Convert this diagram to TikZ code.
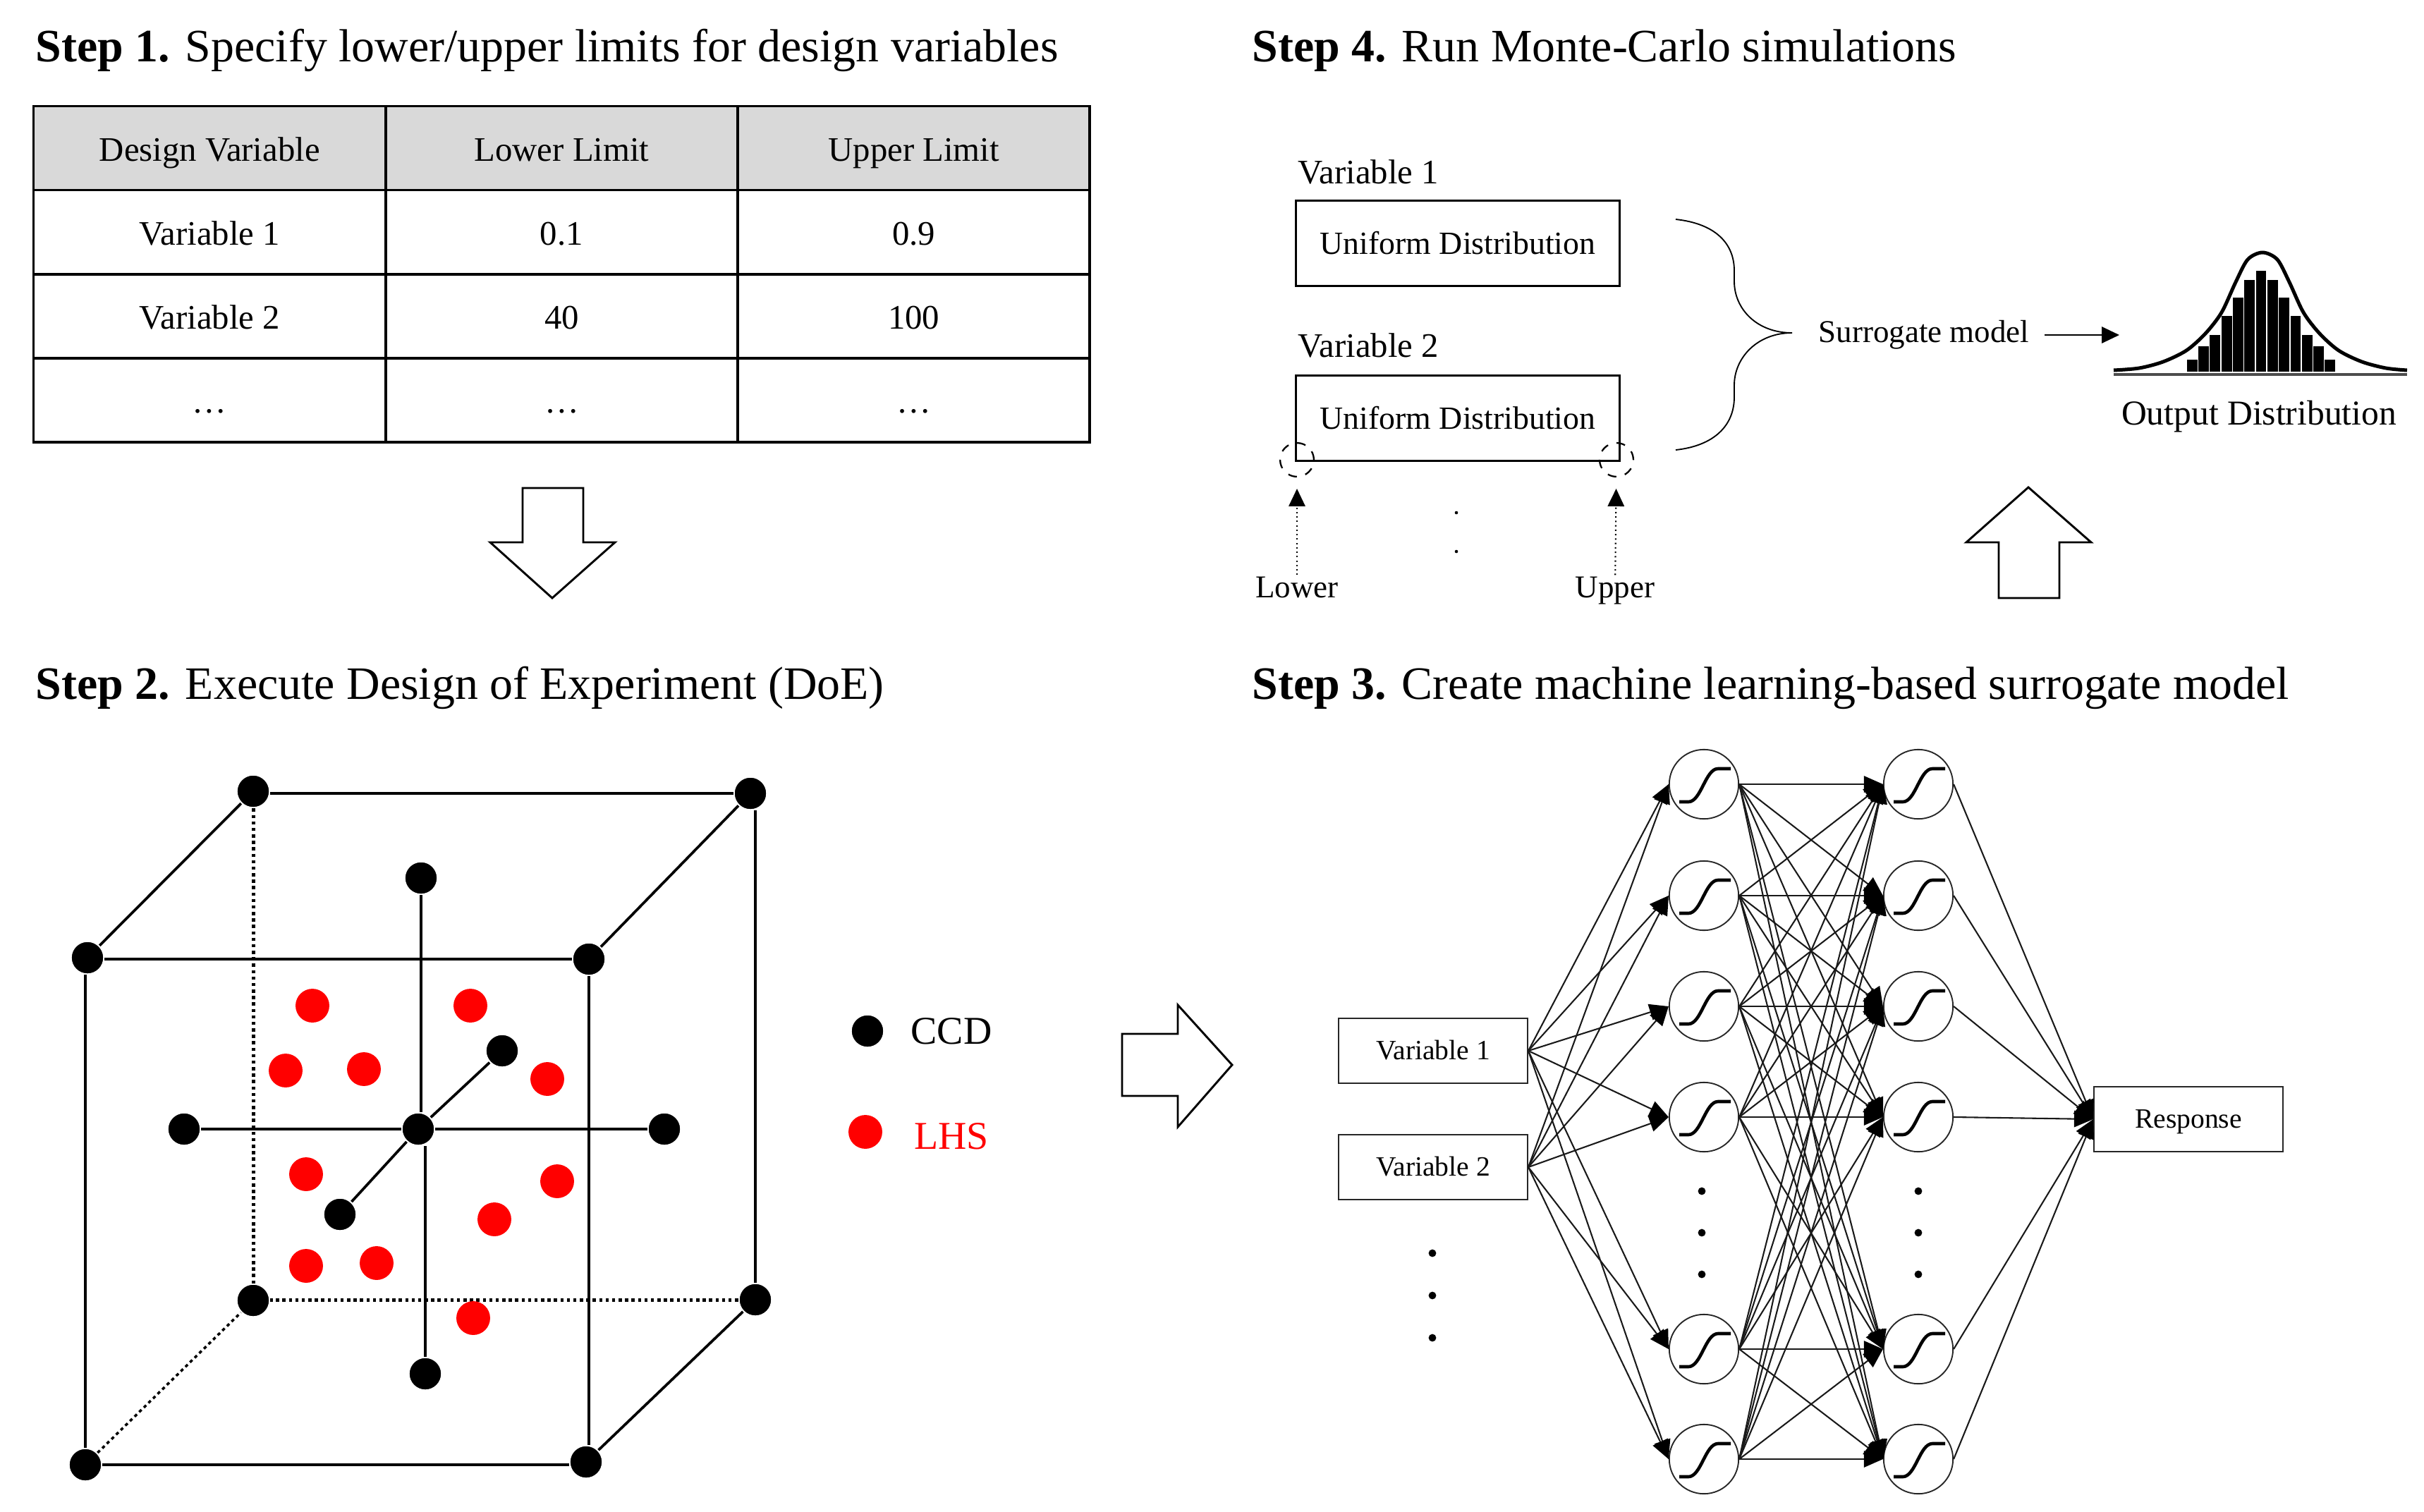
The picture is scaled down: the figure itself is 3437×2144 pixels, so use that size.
\documentclass[tikz,border=0pt]{standalone}
\usepackage{fontspec}
\setmainfont{Liberation Serif}
\usetikzlibrary{arrows.meta,positioning}

\begin{document}
\begin{tikzpicture}[x=0.24pt,y=-0.24pt,node distance=0pt,
  steptitle/.style={anchor=base west, inner sep=0pt, font=\fontsize{15.8}{19}\selectfont},
  tablecell/.style={draw=black, line width=0.85pt, outer sep=0pt, inner sep=0pt, minimum width=119.8pt, minimum height=28.6pt, text height=11.2pt, text depth=2.5pt, font=\fontsize{11.7}{14}\selectfont},
  headcell/.style={tablecell, fill=black!15},
  bigarrow/.style={draw=black, line width=0.7pt, fill=white, line join=miter},
  ccddot/.style={circle, fill=black, draw=white, line width=0.5pt, minimum size=11.2pt, inner sep=0pt},
  lhsdot/.style={circle, fill=red, minimum size=11.5pt, inner sep=0pt},
  cubeline/.style={line width=0.9pt},
  cubedots/.style={line width=1.2pt, dash pattern=on 1.1pt off 1.1pt},
  distbox/.style={draw=black, line width=0.8pt, minimum width=110.3pt, minimum height=29.1pt, inner sep=0pt, font=\fontsize{11}{13}\selectfont},
  smalltext/.style={inner sep=0pt, font=\fontsize{10.8}{13}\selectfont},
  endcircle/.style={circle, draw=black, dashed, line width=0.55pt, minimum size=11.5pt, inner sep=0pt},
  dotarrow/.style={densely dotted, line width=0.5pt, -{Triangle[length=6pt,width=5.6pt]}, shorten >=3.8pt},
  tinydot/.style={circle, fill=black, minimum size=1.1pt, inner sep=0pt},
  nndot/.style={circle, fill=black, minimum size=2.6pt, inner sep=0pt},
  nnbox/.style={draw=black!85, line width=0.5pt, minimum width=64.3pt, minimum height=22.2pt, inner sep=0pt, text height=8pt, text depth=2pt, font=\fontsize{9.5}{11}\selectfont},
  nncircle/.style={circle, draw=black!85, line width=0.45pt, minimum size=23.6pt, inner sep=0pt},
  nnline/.style={line width=0.5pt, black!90, -{Triangle[length=6.5pt,width=5.6pt,black]}},
  sigline/.style={line width=1.1pt}]
\useasboundingbox (0,0) rectangle (3437,2144);

%Titles
\node[steptitle] (title1) at (50,87)   {\textbf{Step 1.} Specify lower/upper limits for design variables};
\node[steptitle] (title4) at (1775,87) {\textbf{Step 4.} Run Monte-Carlo simulations};
\node[steptitle] (title2) at (50,991)  {\textbf{Step 2.} Execute Design of Experiment (DoE)};
\node[steptitle] (title3) at (1775,991) {\textbf{Step 3.} Create machine learning-based surrogate model};

%Table
\node[headcell]  (c11) at (297.3,210) {Design Variable};
\node[headcell]  (c12) [right=of c11] {Lower Limit};
\node[headcell]  (c13) [right=of c12] {Upper Limit};
\node[tablecell] (c21) [below=of c11] {Variable 1};
\node[tablecell] (c22) [right=of c21] {0.1};
\node[tablecell] (c23) [right=of c22] {0.9};
\node[tablecell] (c31) [below=of c21] {Variable 2};
\node[tablecell] (c32) [right=of c31] {40};
\node[tablecell] (c33) [right=of c32] {100};
\node[tablecell] (c41) [below=of c31] {…};
\node[tablecell] (c42) [right=of c41] {…};
\node[tablecell] (c43) [right=of c42] {…};

%Block arrows
\draw[bigarrow] (741,692) -- (827,692) -- (827,769) -- (872,769) -- (783,848) -- (695,769) -- (741,769) -- cycle;
\draw[bigarrow] (2834,848) -- (2920,848) -- (2920,769) -- (2965,769) -- (2876,691) -- (2788,769) -- (2834,769) -- cycle;
\draw[bigarrow] (1591,1466) -- (1670,1466) -- (1670,1425) -- (1747,1510) -- (1670,1598) -- (1670,1554) -- (1591,1554) -- cycle;

%Cube
\node[ccddot] (btl) at (359,1122) {};
\node[ccddot] (btr) at (1064,1125) {};
\node[ccddot] (ftl) at (124,1358) {};
\node[ccddot] (ftr) at (835,1360) {};
\node[ccddot] (bbl) at (359,1844) {};
\node[ccddot] (bbr) at (1071,1843) {};
\node[ccddot] (fbl) at (121,2077) {};
\node[ccddot] (fbr) at (831,2073) {};
\node[ccddot] (axt) at (597,1245) {};
\node[ccddot] (axb) at (603,1948) {};
\node[ccddot] (axl) at (261,1601) {};
\node[ccddot] (axr) at (942,1601) {};
\node[ccddot] (axc) at (593,1601) {};
\node[ccddot] (axk) at (712,1490) {};
\node[ccddot] (axf) at (482,1722) {};

\draw[cubeline] (btr) -- (btr -| btl.east);
\draw[cubeline] (ftr) -- (ftr -| ftl.east);
\draw[cubeline] (fbl) -- (fbl -| fbr.west);
\draw[cubeline] (fbl) -- (fbl |- ftl.south);
\draw[cubeline] (ftr) -- (ftr |- fbr.north);
\draw[cubeline] (bbr) -- (bbr |- btr.south);
\draw[cubeline] (ftl) -- (btl);
\draw[cubeline] (ftr) -- (btr);
\draw[cubeline] (fbr) -- (bbr);
\draw[cubedots] (btl) -- (bbl);
\draw[cubedots] (bbr) -- (bbr -| bbl.east);
\draw[cubedots, line width=0.85pt] (fbl) -- (bbl);
\draw[cubeline] (axt) -- (axt |- axc.north);
\draw[cubeline] (axb) -- (axb |- axc.south);
\draw[cubeline] (axc) -- (axl);
\draw[cubeline] (axc) -- (axr);
\draw[cubeline] (axc) -- (axk);
\draw[cubeline] (axc) -- (axf);

\foreach \n/\px/\py in {1/443/1426,2/667/1426,3/405/1518,4/516/1516,5/776/1530,6/434/1665,7/790/1675,8/701/1729,9/434/1795,10/534/1791,11/671/1869}
  \node[lhsdot] (lhs\n) at (\px,\py) {};

%Legend
\node[ccddot] (legccd) at (1230,1462) {};
\node[lhsdot] (leglhs) at (1227,1605) {};
\node[inner sep=0pt, font=\fontsize{13.4}{16}\selectfont] (txtccd) at (1349,1462) {CCD};
\node[inner sep=0pt, font=\fontsize{13.4}{16}\selectfont, text=red] (txtlhs) at (1349,1611) {LHS};

%Step 4
\node[smalltext, anchor=west, font=\fontsize{11.7}{14}\selectfont] (var1lab) at (1840,244) {Variable 1};
\node[smalltext, anchor=west, font=\fontsize{11.7}{14}\selectfont] (var2lab) at (1840,490) {Variable 2};
\node[distbox] (dist1) at (2067,345) {Uniform Distribution};
\node[distbox] (dist2) at (2067,593) {Uniform Distribution};
\node[endcircle] (lowcirc) at (1839,652) {};
\node[endcircle] (upcirc)  at (2292,652) {};
\node[smalltext, text height=7.5pt, text depth=2.5pt] (lowlab) at (1839,837) {Lower};
\node[smalltext, text height=7.5pt, text depth=2.5pt] (uplab)  at (2290,837) {Upper};
\draw[dotarrow] (lowlab) -- (lowcirc);
\draw[dotarrow] (uplab) -- (upcirc);
\node[tinydot] (vdot1) at (2065,727) {};
\node[tinydot] (vdot2) at (2065,782) {};

\coordinate (bracetop) at (2376,311);
\coordinate (bracetip) at (2541,472);
\coordinate (bracebot) at (2376,638);
\draw[line width=0.45pt] (bracetop) .. controls (2431,317) and (2459,344) .. (2459,384) -- (2459,399)
  .. controls (2459,438) and (2491,472) .. (bracetip)
  .. controls (2491,472) and (2459,508) .. (2459,546) -- (2459,563)
  .. controls (2459,603) and (2431,632) .. (bracebot);

\node[smalltext, inner xsep=5pt] (surrogate) at (2728,475) {Surrogate model};
\coordinate (disttip) at (3005,475);
\draw[line width=0.5pt, -{Triangle[length=6pt,width=5.6pt]}] (surrogate) -- (disttip);

\draw[line width=0.9pt, black!70] (2997,531) -- (3413,531);
\foreach \bx/\by in {-6/510,-5/491,-4/475,-3/448,-2/422,-1/397,0/384,1/397,2/422,3/448,4/475,5/491,6/510}
  \fill[black] ({3206+16.3*\bx-7.4},\by) rectangle ({3206+16.3*\bx+7.4},527);
\draw[line width=1.2pt] plot[smooth] coordinates {(2997,525) (3033,522) (3067,513) (3100,497) (3127,473) (3150,443) (3170,400) (3187,368) (3208,358) (3229,368) (3246,400) (3266,443) (3289,473) (3316,497) (3349,513) (3383,522) (3413,525)};
\node[smalltext, font=\fontsize{11.9}{14}\selectfont] (outlab) at (3203,591) {Output Distribution};

%Step 3
\node[nnbox] (inp1) at (2032,1490) {Variable 1};
\node[nnbox] (inp2) at (2032,1655) {Variable 2};
\node[nnbox] (resp) at (3103,1587) {Response};
\foreach \i/\yy in {1/1112,2/1270,3/1427,4/1584,5/1913,6/2069} {
  \node[nncircle] (hid\i) at (2416,\yy) {};
  \node[nncircle] (out\i) at (2720,\yy) {};
  \draw[sigline, shift={(hid\i.center)}] (-35,25) -- (-22,25) .. controls (-4,25) and (2,-22) .. (20,-22) -- (38,-22);
  \draw[sigline, shift={(out\i.center)}] (-35,25) -- (-22,25) .. controls (-4,25) and (2,-22) .. (20,-22) -- (38,-22);
}
\foreach \i in {1,...,6} {
  \draw[nnline] (inp1.east) -- (hid\i.west);
  \draw[nnline] (inp2.east) -- (hid\i.west);
  \draw[nnline] (out\i.east) -- (resp.west);
  \foreach \j in {1,...,6}
    \draw[nnline] (hid\i.east) -- (out\j.west);
}
\foreach \n/\yy in {1/1777,2/1837,3/1897}
  \node[nndot] (inpdot\n) at (2031,\yy) {};
\foreach \n/\yy in {1/1689,2/1748,3/1807} {
  \node[nndot] (hiddot\n) at (2413,\yy) {};
  \node[nndot] (outdot\n) at (2720,\yy) {};
}
\end{tikzpicture}
\end{document}
